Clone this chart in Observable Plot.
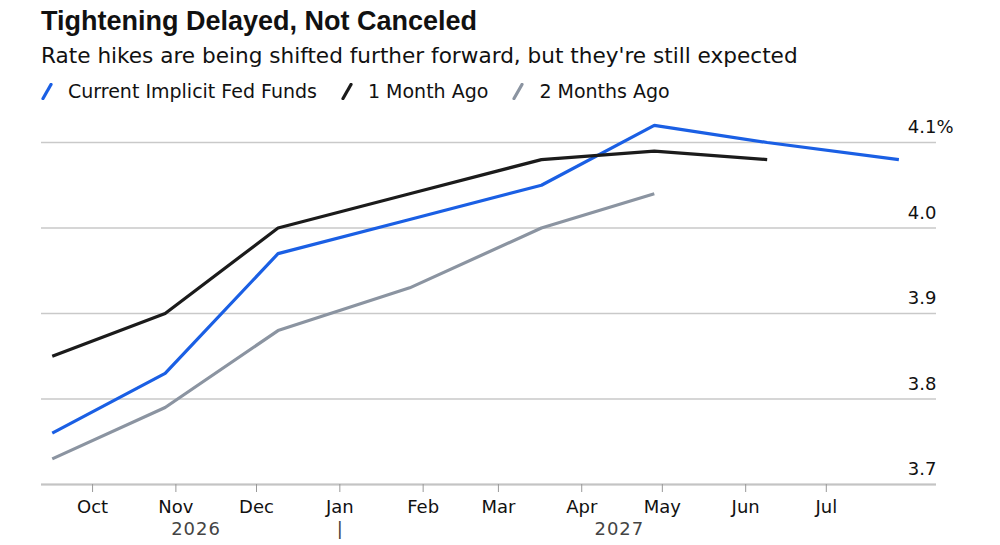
<!DOCTYPE html>
<html>
<head>
<meta charset="utf-8">
<script src="https://cdn.jsdelivr.net/npm/d3@7"></script>
<script src="https://cdn.jsdelivr.net/npm/@observablehq/plot@0.6"></script>
<style>
  html, body { margin: 0; padding: 0; background: #fff; }
  body { width: 1000px; height: 545px; overflow: hidden; font-family: "DejaVu Sans", sans-serif; color: #111; }
  #header { position: relative; height: 108px; }
  #title { position: absolute; left: 41px; top: 8px; font-family: "Liberation Sans", Arial, sans-serif; font-size: 27px; font-weight: bold; line-height: 1; white-space: nowrap; }
  #subtitle { position: absolute; left: 41px; top: 45px; font-size: 21.6px; line-height: 1; white-space: nowrap; }
  #legend { position: absolute; left: 41px; top: 82px; display: flex; align-items: center; font-size: 19px; line-height: 1; white-space: nowrap; }
  .item { display: flex; align-items: center; margin-right: 24px; }
  .item svg { margin-right: 15px; }
</style>
</head>
<body>
<div id="header">
  <div id="title"></div>
  <div id="subtitle"></div>
  <div id="legend"></div>
</div>
<div id="chart"></div>
<script>
const titleText = "Tightening Delayed, Not Canceled";
const subtitleText = "Rate hikes are being shifted further forward, but they're still expected";

const seriesNames = ["Current Implicit Fed Funds", "1 Month Ago", "2 Months Ago"];
const seriesColors = ["#1a5fe4", "#1b1b1b", "#8b94a1"];

// FOMC meeting dates
const dates = ["2026-09-16", "2026-10-28", "2026-12-09", "2027-01-27", "2027-03-17", "2027-04-28", "2027-06-09", "2027-07-28"];
const current   = [3.76, 3.83, 3.97, 4.01, 4.05, 4.12, 4.10, 4.08];
const oneMonth  = [3.85, 3.90, 4.00, 4.04, 4.08, 4.09, 4.08, null];
const twoMonths = [3.73, 3.79, 3.88, 3.93, 4.00, 4.04, null, null];

const yTicks = [3.7, 3.8, 3.9, 4.0, 4.1];
const monthTicks = ["2026-10-01", "2026-11-01", "2026-12-01", "2027-01-01", "2027-02-01", "2027-03-01", "2027-04-01", "2027-05-01", "2027-06-01", "2027-07-01"];
const yearLabels = ["2026", "2027"];

document.getElementById("title").textContent = titleText;
document.getElementById("subtitle").textContent = subtitleText;
const legend = document.getElementById("legend");
seriesNames.forEach((name, i) => {
  const item = document.createElement("div");
  item.className = "item";
  item.innerHTML = `<svg width="12" height="17" viewBox="0 0 12 17"><line x1="2" y1="15.5" x2="10" y2="1.5" stroke="${seriesColors[i]}" stroke-width="3.2" stroke-linecap="round"/></svg><span>${name}</span>`;
  legend.appendChild(item);
});

const allSeries = [current, oneMonth, twoMonths];
const rows = [];
allSeries.forEach((vals, s) => {
  vals.forEach((v, i) => {
    if (v != null) rows.push({date: new Date(dates[i]), value: v, series: seriesNames[s]});
  });
});

const parsedDates = dates.map(d => new Date(d));
const minD = d3.min(parsedDates), maxD = d3.max(parsedDates);
const yearRows = yearLabels.map(y => {
  const start = new Date(`${y}-01-01`), end = new Date(`${+y + 1}-01-01`);
  const a = Math.max(+minD, +start), b = Math.min(+maxD, +end);
  return {label: y, date: new Date((a + b) / 2)};
});
const separators = yearLabels.slice(1).map(y => new Date(`${y}-01-01`));

const chart = Plot.plot({
  width: 1000,
  height: 437,
  marginTop: 34,
  marginBottom: 61,
  marginLeft: 41,
  marginRight: 64,
  style: {fontFamily: "'DejaVu Sans', sans-serif", fontSize: "18px", color: "#111", background: "#fff"},
  x: {type: "utc", domain: [new Date("2026-09-12"), new Date("2027-08-11")], label: null},
  y: {domain: [3.7, 4.1], label: null},
  color: {domain: seriesNames, range: seriesColors},
  marks: [
    Plot.gridY(yTicks, {stroke: "#c9c9c9", strokeOpacity: 1, strokeWidth: 1.5}),
    Plot.ruleY([3.7], {stroke: "#c4c4c4", strokeWidth: 2}),
    Plot.axisY(yTicks, {anchor: "right", label: null, tickSize: 0, tickPadding: 0, textAnchor: "end", dy: -15, tickFormat: d => d.toFixed(1), fill: "#111"}),
    Plot.text([4.1], {y: d => d, frameAnchor: "right", textAnchor: "start", dy: -15, text: () => "%", fill: "#111", fontSize: 18}),
    Plot.axisX(monthTicks.map(d => new Date(d)), {label: null, tickSize: 8, tickPadding: 8, tickFormat: d3.utcFormat("%b"), stroke: "#999", fill: "#111"}),
    Plot.text(yearRows, {x: "date", y: 3.7, text: "label", dy: 45, fill: "#444", fontSize: 18}),
    Plot.text(separators, {x: d => d, y: 3.7, text: () => "|", dy: 45, fill: "#444", fontSize: 18}),
    Plot.line(rows, {x: "date", y: "value", z: "series", stroke: "series", strokeWidth: 3.2, strokeLinejoin: "miter", strokeLinecap: "butt"})
  ]
});
chart.querySelectorAll("text").forEach(t => { if (/^20\d\d$/.test(t.textContent)) t.setAttribute("letter-spacing", "1"); });
document.getElementById("chart").appendChild(chart);
</script>
</body>
</html>
